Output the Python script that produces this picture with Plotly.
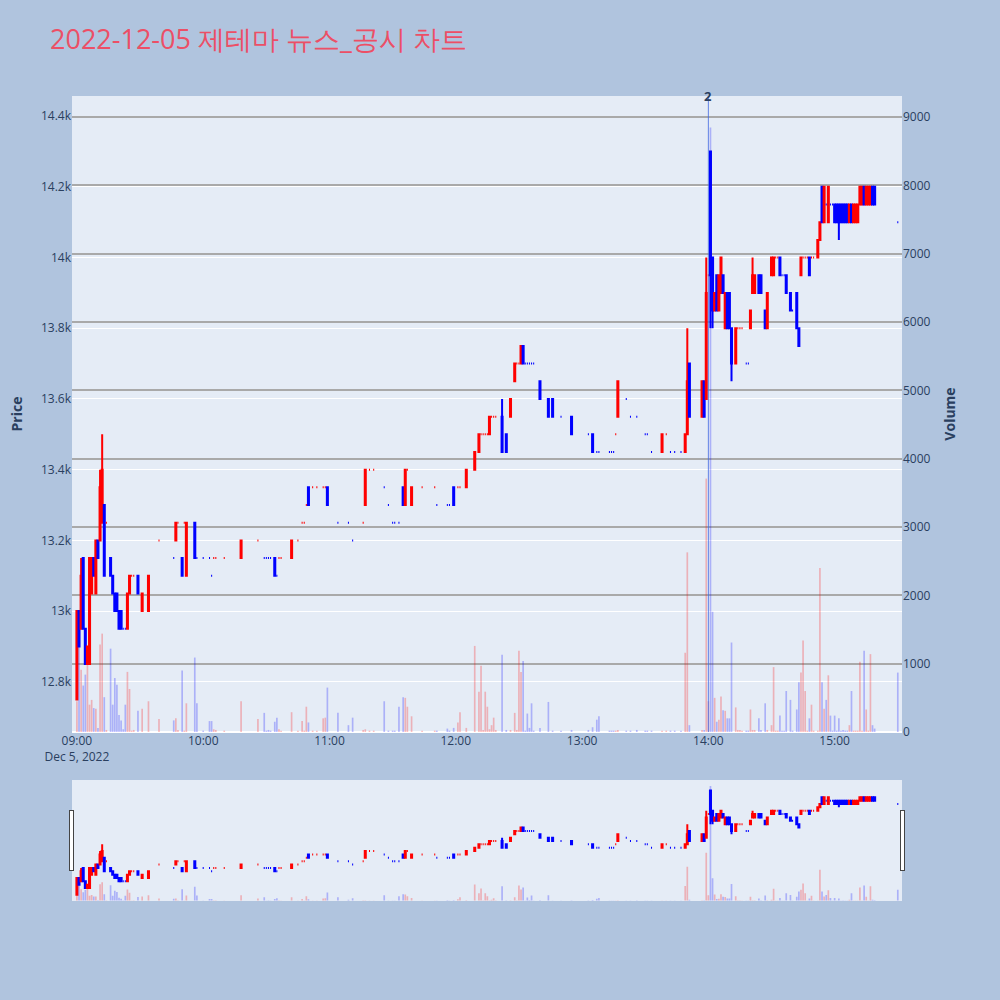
import plotly.graph_objects as go
from plotly.subplots import make_subplots

DAY = "2022-12-05"

# minute candles (only minutes with trades)
times = [
    "09:00", "09:01", "09:02", "09:03", "09:04", "09:05", "09:06", "09:07", "09:08", "09:09", "09:10", "09:11", "09:12", "09:13", "09:14",
    "09:16", "09:17", "09:18", "09:19", "09:20", "09:21", "09:22", "09:23", "09:24", "09:25", "09:26", "09:27",
    "09:29", "09:31", "09:34", "09:39", "09:46", "09:47", "09:48", "09:50", "09:51", "09:52", "09:56", "09:57",
    "10:00", "10:03", "10:04", "10:05", "10:06", "10:10", "10:18", "10:26", "10:29", "10:30", "10:31", "10:32", "10:34", "10:35",
    "10:36", "10:37", "10:42", "10:45", "10:47", "10:48", "10:49", "10:50", "10:52", "10:54", "10:57", "10:58", "10:59",
    "11:04", "11:09", "11:11", "11:16", "11:17", "11:19", "11:21", "11:26", "11:28", "11:30", "11:31",
    "11:33", "11:35", "11:36", "11:37", "11:39", "11:44", "11:50", "11:51", "11:56", "11:57", "11:59",
    "12:01", "12:02", "12:05", "12:09", "12:11", "12:12", "12:13", "12:14", "12:15", "12:16", "12:17", "12:18", "12:19", "12:22", "12:24", "12:26",
    "12:28", "12:29", "12:30", "12:31", "12:32", "12:33", "12:34", "12:35", "12:36", "12:37", "12:40", "12:44", "12:46", "12:50", "12:55",
    "13:03", "13:05", "13:07", "13:08", "13:13", "13:14", "13:15", "13:16", "13:17", "13:21", "13:23", "13:26", "13:30",
    "13:31", "13:33", "13:38", "13:40", "13:42", "13:44", "13:47", "13:49", "13:50", "13:51", "13:57", "13:58", "13:59",
    "14:00", "14:01", "14:02", "14:03", "14:04", "14:05", "14:06", "14:07", "14:08", "14:09", "14:10", "14:11",
    "14:13", "14:14", "14:15", "14:16", "14:18", "14:19", "14:20", "14:21", "14:22", "14:24", "14:25", "14:27", "14:28",
    "14:30", "14:31", "14:32", "14:33", "14:34", "14:35", "14:36", "14:37", "14:39", "14:40",
    "14:42", "14:43", "14:44", "14:45", "14:46", "14:47", "14:48", "14:49", "14:50",
    "14:52", "14:53", "14:54", "14:55", "14:56", "14:57", "14:58", "14:59",
    "15:00", "15:01", "15:02", "15:03", "15:04", "15:05", "15:06", "15:07", "15:08", "15:09", "15:10",
    "15:11", "15:12", "15:13", "15:14", "15:15", "15:16", "15:17", "15:18", "15:19", "15:30",
]

opens = [
    12750, 13000, 12950, 13150, 12950, 12850, 12850, 13050, 13150, 13050, 13200, 13200, 13250, 13300, 13250,
    13150, 13100, 13050, 13050, 13000, 13000, 12950, 12950, 12950, 13050, 13100, 13100,
    13100, 13000, 13000, 13200, 13150, 13200, 13250, 13150, 13250, 13100, 13250, 13150,
    13150, 13150, 13100, 13150, 13150, 13150, 13150, 13200, 13150, 13150, 13150, 13150, 13150, 13100,
    13150, 13150, 13150, 13200, 13250, 13250, 13300, 13350, 13350, 13350, 13350, 13350, 13350,
    13250, 13250, 13200, 13250, 13300, 13400, 13400, 13350, 13300, 13250, 13250,
    13250, 13350, 13300, 13400, 13300, 13350, 13350, 13300, 13300, 13300, 13350,
    13350, 13350, 13350, 13400, 13450, 13500, 13500, 13500, 13500, 13500, 13550, 13550, 13550, 13550, 13500, 13550,
    13650, 13700, 13700, 13700, 13750, 13700, 13700, 13700, 13700, 13700, 13650, 13600, 13600, 13550, 13550,
    13500, 13500, 13450, 13450, 13450, 13450, 13450, 13500, 13550, 13600, 13550, 13550, 13500,
    13500, 13450, 13450, 13500, 13450, 13450, 13450, 13450, 13500, 13700, 13550, 13650, 13600,
    13950, 14300, 14000, 13850, 13950, 13850, 13900, 13950, 13800, 13900, 13900, 13800,
    13700, 13800, 13800, 13800, 13700, 13700, 13800, 13900, 13900, 13950, 13950, 13850, 13800,
    13950, 13950, 14000, 14000, 14000, 13950, 13950, 13950, 13900, 13850,
    13900, 13800, 13950, 14000, 14000, 14000, 14000, 14000, 14000,
    14000, 14050, 14200, 14100, 14150, 14100, 14150, 14150,
    14150, 14150, 14150, 14150, 14150, 14150, 14150, 14100, 14150, 14100, 14100,
    14100, 14150, 14150, 14200, 14150, 14150, 14150, 14200, 14200, 14100,
]

highs = [
    13000, 13000, 13150, 13150, 12950, 12900, 13150, 13150, 13150, 13200, 13200, 13400, 13500, 13300, 13250,
    13150, 13100, 13050, 13050, 13000, 13000, 12950, 12950, 13050, 13100, 13100, 13100,
    13100, 13050, 13100, 13200, 13150, 13250, 13250, 13150, 13250, 13250, 13250, 13150,
    13150, 13150, 13100, 13150, 13150, 13150, 13200, 13200, 13150, 13150, 13150, 13150, 13150, 13100,
    13150, 13150, 13200, 13200, 13250, 13250, 13300, 13350, 13350, 13350, 13350, 13350, 13350,
    13250, 13250, 13200, 13250, 13400, 13400, 13400, 13350, 13300, 13250, 13250,
    13250, 13350, 13400, 13400, 13350, 13350, 13350, 13300, 13300, 13300, 13350,
    13350, 13350, 13400, 13450, 13500, 13500, 13500, 13500, 13500, 13550, 13550, 13550, 13550, 13600, 13500, 13600,
    13700, 13700, 13700, 13750, 13750, 13700, 13700, 13700, 13700, 13700, 13650, 13600, 13600, 13550, 13550,
    13500, 13500, 13450, 13450, 13450, 13450, 13450, 13500, 13650, 13600, 13550, 13550, 13500,
    13500, 13450, 13500, 13500, 13450, 13450, 13450, 13500, 13800, 13700, 13650, 13650, 14000,
    13950, 14300, 14000, 13900, 13950, 13950, 14000, 13950, 13900, 13900, 13900, 13800,
    13800, 13800, 13800, 13800, 13700, 13700, 13850, 14000, 13950, 13950, 13950, 13850, 13900,
    14000, 14000, 14000, 14000, 14000, 13950, 13950, 13950, 13900, 13850,
    13900, 13800, 14000, 14000, 14000, 14000, 14000, 14000, 14000,
    14050, 14100, 14200, 14200, 14150, 14200, 14150, 14150,
    14150, 14150, 14150, 14150, 14150, 14150, 14150, 14150, 14150, 14150, 14150,
    14150, 14200, 14200, 14200, 14200, 14200, 14200, 14200, 14200, 14100,
]

lows = [
    12750, 12900, 12950, 12950, 12850, 12850, 12850, 13050, 13100, 13050, 13150, 13200, 13250, 13100, 13250,
    13100, 13050, 13000, 13000, 12950, 12950, 12950, 12950, 12950, 13050, 13100, 13100,
    13050, 13000, 13000, 13200, 13150, 13200, 13250, 13100, 13250, 13100, 13150, 13150,
    13150, 13150, 13100, 13150, 13150, 13150, 13150, 13200, 13150, 13150, 13150, 13150, 13100, 13100,
    13150, 13150, 13150, 13200, 13250, 13250, 13300, 13300, 13350, 13350, 13350, 13350, 13300,
    13250, 13250, 13200, 13250, 13300, 13400, 13400, 13350, 13300, 13250, 13250,
    13250, 13300, 13300, 13400, 13300, 13350, 13350, 13300, 13300, 13300, 13300,
    13350, 13350, 13350, 13400, 13450, 13500, 13500, 13500, 13500, 13500, 13550, 13550, 13550, 13450, 13450, 13550,
    13650, 13700, 13700, 13700, 13700, 13700, 13700, 13700, 13700, 13700, 13600, 13550, 13550, 13550, 13500,
    13500, 13450, 13450, 13450, 13450, 13450, 13450, 13500, 13550, 13600, 13550, 13550, 13500,
    13500, 13450, 13450, 13500, 13450, 13450, 13450, 13450, 13500, 13550, 13550, 13550, 13600,
    13950, 13800, 13800, 13850, 13850, 13850, 13900, 13900, 13800, 13800, 13800, 13650,
    13700, 13800, 13800, 13800, 13700, 13700, 13800, 13900, 13900, 13900, 13900, 13800, 13800,
    13950, 13950, 14000, 14000, 13950, 13950, 13950, 13900, 13850, 13850,
    13800, 13750, 13950, 14000, 14000, 14000, 13950, 14000, 14000,
    14000, 14050, 14100, 14100, 14150, 14100, 14150, 14150,
    14100, 14100, 14050, 14100, 14100, 14100, 14100, 14100, 14100, 14100, 14100,
    14100, 14150, 14150, 14150, 14150, 14150, 14150, 14150, 14150, 14100,
]

closes = [
    13000, 12900, 13100, 12950, 12850, 12900, 13150, 13150, 13100, 13200, 13150, 13350, 13400, 13100, 13250,
    13100, 13050, 13000, 13000, 12950, 12950, 12950, 12950, 13050, 13100, 13100, 13100,
    13050, 13050, 13100, 13200, 13150, 13250, 13250, 13100, 13250, 13250, 13150, 13150,
    13150, 13150, 13100, 13150, 13150, 13150, 13200, 13200, 13150, 13150, 13150, 13150, 13100, 13100,
    13150, 13150, 13200, 13200, 13250, 13250, 13300, 13300, 13350, 13350, 13350, 13350, 13300,
    13250, 13250, 13200, 13250, 13400, 13400, 13400, 13350, 13300, 13250, 13250,
    13250, 13300, 13400, 13400, 13350, 13350, 13350, 13300, 13300, 13300, 13300,
    13350, 13350, 13400, 13450, 13500, 13500, 13500, 13500, 13500, 13550, 13550, 13550, 13550, 13450, 13450, 13600,
    13700, 13700, 13700, 13750, 13700, 13700, 13700, 13700, 13700, 13700, 13600, 13550, 13550, 13550, 13500,
    13500, 13450, 13450, 13450, 13450, 13450, 13450, 13500, 13650, 13600, 13550, 13550, 13500,
    13500, 13450, 13500, 13500, 13450, 13450, 13450, 13500, 13650, 13550, 13650, 13550, 13900,
    13950, 13950, 13850, 13900, 13850, 13950, 14000, 13900, 13900, 13800, 13800, 13700,
    13800, 13800, 13800, 13800, 13700, 13700, 13850, 13950, 13950, 13900, 13900, 13800, 13900,
    14000, 14000, 14000, 14000, 13950, 13950, 13950, 13900, 13850, 13850,
    13800, 13750, 14000, 14000, 14000, 14000, 13950, 14000, 14000,
    14050, 14100, 14100, 14200, 14150, 14200, 14150, 14150,
    14100, 14100, 14100, 14100, 14100, 14100, 14100, 14150, 14100, 14150, 14150,
    14150, 14200, 14200, 14150, 14200, 14200, 14200, 14150, 14150, 14100,
]

volumes = [
    450, 1380, 910, 680, 840, 1090, 400, 470, 350, 340, 60, 1280, 1440, 510, 30,
    1220, 400, 790, 690, 250, 170, 40, 400, 880, 630, 20, 30,
    310, 340, 450, 190, 170, 200, 30, 900, 20, 420, 1090, 420,
    20, 160, 160, 40, 30, 20, 450, 190, 280, 20, 30, 20, 150, 210,
    40, 20, 290, 20, 160, 20, 370, 140, 20, 20, 200, 210, 650,
    280, 100, 210, 30, 40, 20, 20, 450, 20, 20, 20,
    370, 510, 500, 370, 230, 20, 20, 20, 50, 20, 60,
    140, 290, 60, 1260, 590, 970, 30, 590, 370, 40, 100, 210, 30, 1130, 30, 30,
    280, 30, 1190, 880, 1040, 20, 270, 60, 420, 20, 60, 440, 20, 20, 30,
    30, 70, 180, 230, 20, 20, 20, 20, 30, 20, 20, 30, 20,
    20, 20, 20, 20, 20, 20, 20, 1160, 2630, 100, 30, 30, 3710,
    450, 8850, 1760, 500, 150, 180, 520, 320, 310, 200, 200, 1310,
    360, 30, 30, 20, 20, 20, 330, 30, 30, 200, 30, 420, 30,
    100, 950, 20, 20, 240, 20, 20, 600, 470, 20,
    330, 730, 870, 1340, 600, 20, 200, 400, 20,
    20, 2400, 730, 340, 470, 830, 240, 20,
    240, 20, 200, 20, 30, 20, 20, 100, 600, 20, 20,
    20, 1030, 20, 1190, 330, 20, 1140, 100, 50, 870,
]

news_time = "14:00"
news_label = "2"

n = len(times)
assert all(len(a) == n for a in (opens, highs, lows, closes, volumes))

x = [f"{DAY} {t}" for t in times]

# same up/down rule plotly uses for candles (doji -> compare with previous close)
vol_colors = []
up = True
prev = None
for o, c in zip(opens, closes):
    if c == o:
        if prev is not None and c != prev:
            up = c > prev
    else:
        up = c > o
    prev = c
    vol_colors.append("rgba(255,0,0,0.25)" if up else "rgba(0,0,255,0.25)")

fig = make_subplots(specs=[[{"secondary_y": True}]])
fig.add_trace(
    go.Candlestick(x=x, open=opens, high=highs, low=lows, close=closes,
                   increasing=dict(line=dict(color="red"), fillcolor="red"),
                   decreasing=dict(line=dict(color="blue"), fillcolor="blue"),
                   name="Price"),
    secondary_y=False,
)
fig.add_trace(
    go.Bar(x=x, y=volumes, marker_color=vol_colors, marker_line_width=0, name="Volume"),
    secondary_y=True,
)

fig.add_vline(x=f"{DAY} {news_time}", line_color="royalblue", line_width=1, opacity=0.8)
fig.add_annotation(x=f"{DAY} {news_time}", y=1, yref="paper", text=f"<b>{news_label}</b>",
                   showarrow=False, yanchor="middle", font=dict(size=13, color="#2a3f5f"))

fig.update_layout(
    title=dict(text="2022-12-05 제테마 뉴스_공시 차트", x=0.05, y=0.96, yanchor="middle",
               font=dict(size=27, color="#EC4F66")),
    paper_bgcolor="lightsteelblue",
    showlegend=False,
    margin=dict(l=72, r=98, t=96, b=100),
)
fig.update_xaxes(range=[f"{DAY} 08:57:40", f"{DAY} 15:32:00"], showgrid=False, domain=[0, 1],
                 rangeslider=dict(visible=True, thickness=0.15))
fig.update_yaxes(title_text="<b>Price</b>", range=[12658, 14457], secondary_y=False)
fig.update_yaxes(title_text="<b>Volume</b>", range=[0, 9310], gridcolor="darkgray", gridwidth=2,
                 automargin=False, secondary_y=True)

# let the figure use the whole window (no default page margin)
fig.write_html(
    "out.html",
    config={"displayModeBar": False},
    post_script="document.body.style.margin='0';"
                "var gd=document.getElementById('{plot_id}');Plotly.Plots.resize(gd);",
)
